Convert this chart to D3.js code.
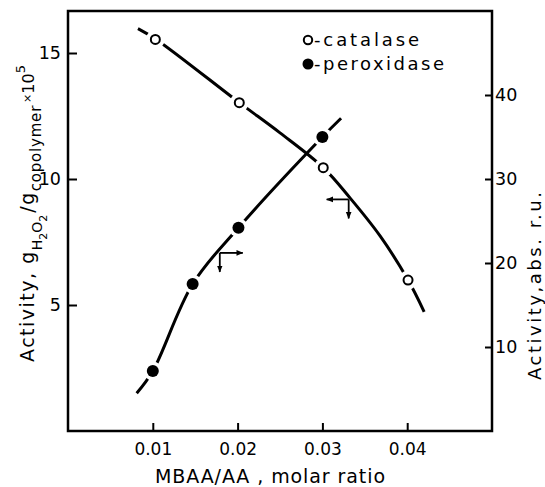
<!DOCTYPE html>
<html>
<head>
<meta charset="utf-8">
<script src="https://cdn.jsdelivr.net/npm/d3@7"></script>
<style>
  html, body { margin: 0; padding: 0; background: #fff; }
  svg { display: block; }
  text { font-family: "DejaVu Sans", sans-serif; fill: #000; }
</style>
</head>
<body>
<svg id="chart" width="545" height="487"></svg>
<script>
// ---------- data ----------
const xTicks = [0.01, 0.02, 0.03, 0.04];
const leftTicks = [5, 10, 15];
const rightTicks = [10, 20, 30, 40];

// catalase (open circles, left axis)
const catalaseX = [0.0103, 0.0202, 0.0301, 0.0401];
const catalaseY = [15.54, 13.03, 10.45, 5.99];
// hand-drawn fitted curve for catalase
const catalaseCurveX = [0.00825, 0.0104, 0.0202, 0.0250, 0.0301, 0.03325, 0.0368, 0.0401, 0.0420];
const catalaseCurveY = [15.97, 15.54, 13.03, 11.83, 10.45, 9.25, 7.74, 5.99, 4.73];

// peroxidase (filled circles, right axis)
const peroxidaseX = [0.0100, 0.0147, 0.0201, 0.0300];
const peroxidaseY = [7.14, 17.5, 24.2, 35.0];
// hand-drawn fitted curve for peroxidase
const peroxidaseCurveX = [0.0081, 0.0100, 0.0147, 0.0201, 0.0300, 0.0322];
const peroxidaseCurveY = [4.49, 7.14, 17.5, 24.2, 35.0, 37.23];

// axis-pointer annotations (which axis each curve belongs to)
const arrowX = [0.0331, 0.0179];
const arrowY = [9.19, 21.2];
const arrowAxis = ["left", "right"];

const legendLabels = ["-catalase", "-peroxidase"];

// ---------- layout ----------
const svg = d3.select("#chart");
const L = 68, R = 492, T = 11, B = 431;

const x = d3.scaleLinear().domain([0, 0.05]).range([L, R]);
const yL = d3.scaleLinear().domain([0, 50 / 3]).range([B, T]);
const yR = d3.scaleLinear().domain([0, 50]).range([B, T]);

// ---------- axes ----------
const gx = svg.append("g").attr("transform", `translate(0,${B})`)
  .call(d3.axisBottom(x).tickValues(xTicks).tickSize(-8).tickPadding(12)
    .tickFormat(d3.format(".2f")));
const gl = svg.append("g").attr("transform", `translate(${L},0)`)
  .call(d3.axisLeft(yL).tickValues(leftTicks).tickSize(-9).tickPadding(7)
    .tickFormat(d3.format("d")));
const gr = svg.append("g").attr("transform", `translate(${R},0)`)
  .call(d3.axisRight(yR).tickValues(rightTicks).tickSize(-7).tickPadding(3)
    .tickFormat(d3.format("d")));

[gx, gl, gr].forEach(g => {
  g.select(".domain").remove();
  g.selectAll(".tick line").attr("stroke", "#000").attr("stroke-width", 2);
  g.selectAll(".tick text").attr("font-size", 17.5)
    .attr("font-family", "DejaVu Sans, sans-serif").attr("fill", "#000");
});
gx.selectAll(".tick text").attr("font-size", 17);

// frame
svg.append("rect").attr("x", L).attr("y", T).attr("width", R - L).attr("height", B - T)
  .attr("fill", "none").attr("stroke", "#000").attr("stroke-width", 2.5);

// ---------- curves ----------
const catCurve = catalaseCurveX.map((d, i) => [d, catalaseCurveY[i]]);
const perCurve = peroxidaseCurveX.map((d, i) => [d, peroxidaseCurveY[i]]);

const lineL = d3.line().x(d => x(d[0])).y(d => yL(d[1])).curve(d3.curveCatmullRom.alpha(0.5));
const lineR = d3.line().x(d => x(d[0])).y(d => yR(d[1])).curve(d3.curveCatmullRom.alpha(0.5));

svg.append("path").attr("d", lineL(catCurve)).attr("fill", "none")
  .attr("stroke", "#000").attr("stroke-width", 3);
svg.append("path").attr("d", lineR(perCurve)).attr("fill", "none")
  .attr("stroke", "#000").attr("stroke-width", 3);

// halos (gaps in line around markers)
const catPts = catalaseX.map((d, i) => [x(d), yL(catalaseY[i])]);
const perPts = peroxidaseX.map((d, i) => [x(d), yR(peroxidaseY[i])]);
svg.append("g").selectAll("circle").data(catPts.concat(perPts)).join("circle")
  .attr("cx", d => d[0]).attr("cy", d => d[1]).attr("r", 9.5).attr("fill", "#fff");

// markers
svg.append("g").selectAll("circle").data(catPts).join("circle")
  .attr("cx", d => d[0]).attr("cy", d => d[1]).attr("r", 4.5)
  .attr("fill", "#fff").attr("stroke", "#000").attr("stroke-width", 2);
svg.append("g").selectAll("circle").data(perPts).join("circle")
  .attr("cx", d => d[0]).attr("cy", d => d[1]).attr("r", 6).attr("fill", "#000");

// ---------- arrows ----------
const defs = svg.append("defs");
defs.append("marker").attr("id", "ah").attr("viewBox", "0 0 10 10")
  .attr("refX", 9).attr("refY", 5).attr("markerWidth", 7).attr("markerHeight", 7)
  .attr("markerUnits", "userSpaceOnUse").attr("orient", "auto")
  .append("path").attr("d", "M0,1 L10,5 L0,9 Z").attr("fill", "#000");

arrowX.forEach((ax, i) => {
  const px = x(ax);
  const py = arrowAxis[i] === "left" ? yL(arrowY[i]) : yR(arrowY[i]);
  const hx = arrowAxis[i] === "left" ? px - 22 : px + 23;
  svg.append("line").attr("x1", px).attr("y1", py).attr("x2", hx).attr("y2", py)
    .attr("stroke", "#000").attr("stroke-width", 1.8).attr("marker-end", "url(#ah)");
  svg.append("line").attr("x1", px).attr("y1", py).attr("x2", px).attr("y2", py + 19)
    .attr("stroke", "#000").attr("stroke-width", 1.8).attr("marker-end", "url(#ah)");
});

// ---------- legend ----------
const leg = svg.append("g");
leg.append("circle").attr("cx", 308).attr("cy", 40).attr("r", 4.2)
  .attr("fill", "#fff").attr("stroke", "#000").attr("stroke-width", 2);
leg.append("circle").attr("cx", 308).attr("cy", 64).attr("r", 5.5).attr("fill", "#000");
leg.append("text").attr("x", 314).attr("y", 46).attr("font-size", 18)
  .attr("textLength", 105).attr("lengthAdjust", "spacing").text(legendLabels[0]);
leg.append("text").attr("x", 314).attr("y", 70).attr("font-size", 18)
  .attr("textLength", 130).attr("lengthAdjust", "spacing").text(legendLabels[1]);

// ---------- axis titles ----------
svg.append("text").attr("x", 270).attr("y", 483).attr("text-anchor", "middle")
  .attr("font-size", 19).attr("textLength", 230).attr("lengthAdjust", "spacing")
  .text("MBAA/AA , molar ratio");

svg.append("text").attr("transform", "translate(541,286) rotate(-90)")
  .attr("text-anchor", "middle").attr("font-size", 18)
  .attr("textLength", 188).attr("lengthAdjust", "spacing")
  .text("Activity,abs. r.u.");

const lt = svg.append("text").attr("transform", "translate(34,362) rotate(-90)")
  .attr("font-size", 19);
lt.append("tspan").attr("letter-spacing", 1.5).text("Activity, g");
lt.append("tspan").attr("font-size", 14).attr("dy", 8).text("H");
lt.append("tspan").attr("font-size", 11).attr("dy", 5).text("2");
lt.append("tspan").attr("font-size", 14).attr("dy", -5).text("O");
lt.append("tspan").attr("font-size", 11).attr("dy", 5).text("2");
lt.append("tspan").attr("letter-spacing", 1.5).attr("dy", -13).attr("dx", 2).text("/g");
lt.append("tspan").attr("font-size", 15).attr("letter-spacing", 0.8).attr("dy", 7).text("copolymer");
lt.append("tspan").attr("font-size", 11).attr("dy", -10).attr("dx", 2).text("\u00d7");
lt.append("tspan").attr("font-size", 16).attr("dy", 3).text("10");
lt.append("tspan").attr("font-size", 13).attr("dy", -9).text("5");
</script>
</body>
</html>
